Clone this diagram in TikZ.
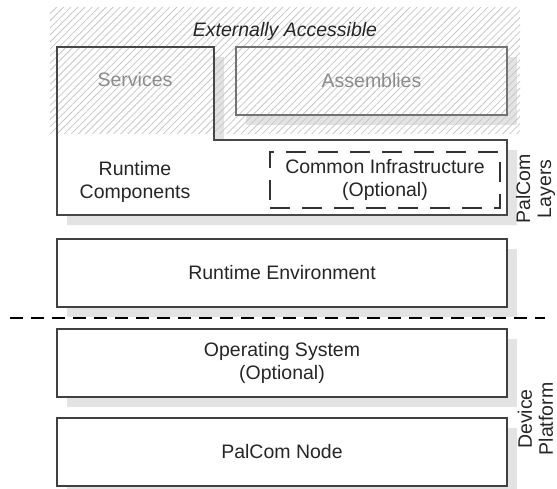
\documentclass[tikz,border=0pt]{standalone}
\usepackage{fontspec}
\setmainfont{Liberation Sans}
\usetikzlibrary{patterns.meta}
\begin{document}
\begin{tikzpicture}[x=1pt,y=-1pt,
  every node/.style={font=\fontsize{19.5}{23}\selectfont, align=center, inner sep=0pt, text=black!85},
  shadowfill/.style={fill=black!11, draw=none},
  layerbox/.style={draw=black!75, line width=1.4pt, fill=white, minimum width=450pt, minimum height=68pt},
  faintbox/.style={draw=black!55, line width=1.2pt, minimum width=271pt, minimum height=68pt, text=black!45},
  optbox/.style={draw=black!80, line width=1.3pt, dash pattern=on 20pt off 12pt, minimum width=230pt, minimum height=56pt},
  divider/.style={draw=black, line width=1.5pt, dash pattern=on 13pt off 8pt},
  sidelabel/.style={rotate=90, font=\fontsize{19.5}{21}\selectfont}]
\useasboundingbox (0,0) rectangle (557,488);
% shadows
\fill[shadowfill] (67,57) -- (224,57) -- (224,150) -- (517,150) -- (517,225) -- (67,225) -- cycle;
\fill[shadowfill] (246,57) rectangle (517,125);
\fill[shadowfill] (67,249) rectangle (517,317);
\fill[shadowfill] (67,339) rectangle (517,407);
\fill[shadowfill] (67,428) rectangle (517,496);
% white backgrounds of upper boxes
\fill[white] (57,47) -- (214,47) -- (214,140) -- (507,140) -- (507,215) -- (57,215) -- cycle;
\fill[white] (236,47) rectangle (507,115);
% hatching of externally accessible area
\fill[pattern={Lines[angle=45,distance=5pt,line width=0.8pt]}, pattern color=black!22] (50,7) rectangle (520,133);
% outlines
\draw[draw=black!72, line width=1.4pt] (57,47) -- (214,47) -- (214,140) -- (507,140) -- (507,215) -- (57,215) -- cycle;
\node[faintbox] (asm) at (371.5,81) {Assemblies};
\node[text=black!45] (svc) at (135,80) {Services};
\node (ext) at (285,31) {\itshape Externally Accessible};
\node (rc) at (135,181.5) {Runtime\\Components};
\node[optbox] (ci) at (385,180) {Common Infrastructure\\(Optional)};
\node[layerbox] (re) at (282,273) {Runtime Environment};
\node[layerbox] (os) at (282,363) {Operating System\\(Optional)};
\node[layerbox] (pn) at (282,452) {PalCom Node};
% divider
\coordinate (dl) at (10,318);
\coordinate (dr) at (545,318);
\draw[divider] (dl) -- (dr);
% side labels
\node[sidelabel] (pl) at (535.5,189) {PalCom\\Layers};
\node[sidelabel] (dp) at (535.5,419) {Device\\Platform};
\end{tikzpicture}
\end{document}
